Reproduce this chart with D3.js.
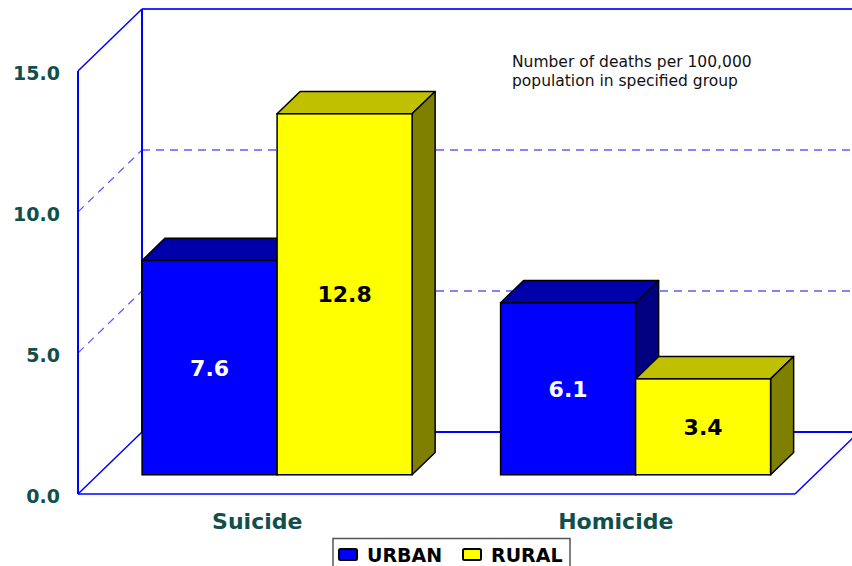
<!DOCTYPE html>
<html>
<head>
<meta charset="utf-8">
<script src="https://cdn.jsdelivr.net/npm/d3@7"></script>
<style>
  body { margin: 0; background: #fff; }
  svg { display: block; }
</style>
</head>
<body>
<svg id="chart" width="852" height="566"></svg>
<script>
// data
var categories = ["Suicide", "Homicide"];
var series = ["URBAN", "RURAL"];
var urban = [7.6, 6.1];
var rural = [12.8, 3.4];
var yTicks = [0, 5, 10, 15];
var note = ["Number of deaths per 100,000", "population in specified group"];

var svg = d3.select("#chart");
var W = 852, H = 566;

// 3d frame: front floor edge and depth offset
var left = 78, right = 795;
var DX = 64, DY = -62;
var f0 = 0.31, f1 = 0.67;   // bar depth, fraction of the floor

var y = d3.scaleLinear().domain([0, 15]).range([494, 71]);
var x = d3.scaleBand().domain(categories).range([left, right]);
var xs = d3.scaleBand().domain(series).range([-135, 135]);

var fill = {URBAN: ["#0000ff", "#0000aa", "#000080"], RURAL: ["#ffff00", "#c0c000", "#808000"]};
var axisBlue = "#0000ff", gridBlue = "#5c5cff";

var frame = svg.append("g");

// left wall + back wall gridlines
yTicks.forEach(function (t) {
    var solid = (t == 0 || t == 15);
    frame.append("line")
        .attr("x1", left).attr("y1", y(t))
        .attr("x2", left + DX).attr("y2", y(t) + DY)
        .attr("stroke", solid ? axisBlue : gridBlue)
        .attr("stroke-width", solid ? 1.5 : 1.2)
        .attr("stroke-dasharray", solid ? null : "8,6");
    frame.append("line")
        .attr("x1", left + DX).attr("y1", y(t) + DY)
        .attr("x2", W).attr("y2", y(t) + DY)
        .attr("stroke", solid ? (t == 0 ? axisBlue : "#2a2aff") : gridBlue)
        .attr("stroke-width", solid ? 1.8 : 1.6)
        .attr("stroke-dasharray", solid ? null : "8,6");
});

frame.append("line")
    .attr("x1", left).attr("y1", y(0)).attr("x2", left).attr("y2", y(15))
    .attr("stroke", axisBlue).attr("stroke-width", 2);
frame.append("line")
    .attr("x1", left + DX).attr("y1", y(0) + DY).attr("x2", left + DX).attr("y2", y(15) + DY)
    .attr("stroke", axisBlue).attr("stroke-width", 2);

// floor
frame.append("line")
    .attr("x1", left).attr("y1", y(0)).attr("x2", right).attr("y2", y(0))
    .attr("stroke", axisBlue).attr("stroke-width", 1.5);
frame.append("line")
    .attr("x1", right).attr("y1", y(0)).attr("x2", right + DX).attr("y2", y(0) + DY)
    .attr("stroke", axisBlue).attr("stroke-width", 1.5);

// y tick labels
svg.append("g").selectAll("text")
    .data(yTicks)
    .enter().append("text")
    .attr("x", 60)
    .attr("y", d => y(d) + 2)
    .attr("dy", "0.36em")
    .attr("text-anchor", "end")
    .attr("font-family", "DejaVu Sans")
    .attr("font-weight", "bold")
    .attr("font-size", 19)
    .attr("fill", "#0f4f4c")
    .text(d => d3.format(".1f")(d));

// bars
var rows = [];
categories.forEach(function (c, i) {
    rows.push({cat: c, s: "URBAN", v: urban[i]});
    rows.push({cat: c, s: "RURAL", v: rural[i]});
});

var ox0 = f0 * DX, oy0 = f0 * DY, ox1 = f1 * DX, oy1 = f1 * DY;

function pts(a) { return a.map(p => p.join(",")).join(" "); }

var bar = svg.append("g").selectAll("g")
    .data(rows)
    .enter().append("g");

bar.each(function (d) {
    var g = d3.select(this);
    var xl = x(d.cat) + x.bandwidth() / 2 + xs(d.s);
    var xr = xl + xs.bandwidth();
    var yt = y(d.v), yb = y(0);
    var c = fill[d.s];
    g.append("polygon")
        .attr("points", pts([[xl + ox0, yt + oy0], [xr + ox0, yt + oy0], [xr + ox1, yt + oy1], [xl + ox1, yt + oy1]]))
        .attr("fill", c[1]).attr("stroke", "#000").attr("stroke-width", 1.5).attr("stroke-linejoin", "round");
    g.append("polygon")
        .attr("points", pts([[xr + ox0, yt + oy0], [xr + ox1, yt + oy1], [xr + ox1, yb + oy1], [xr + ox0, yb + oy0]]))
        .attr("fill", c[2]).attr("stroke", "#000").attr("stroke-width", 1.5).attr("stroke-linejoin", "round");
    g.append("rect")
        .attr("x", xl + ox0).attr("y", yt + oy0)
        .attr("width", xr - xl).attr("height", yb - yt)
        .attr("fill", c[0]).attr("stroke", "#000").attr("stroke-width", 1.5);
    g.append("text")
        .attr("x", (xl + xr) / 2 + ox0)
        .attr("y", (yt + yb) / 2 + oy0)
        .attr("dy", "0.36em")
        .attr("text-anchor", "middle")
        .attr("font-family", "DejaVu Sans")
        .attr("font-weight", "bold")
        .attr("font-size", 22)
        .attr("fill", d.s == "URBAN" ? "#fff" : "#000")
        .text(d3.format(".1f")(d.v));
});

// category labels
svg.append("g").selectAll("text")
    .data(categories)
    .enter().append("text")
    .attr("x", d => x(d) + x.bandwidth() / 2)
    .attr("y", 529)
    .attr("text-anchor", "middle")
    .attr("font-family", "DejaVu Sans")
    .attr("font-weight", "bold")
    .attr("font-size", 22)
    .attr("fill", "#0f4f4c")
    .text(d => d);

// note
svg.append("g").selectAll("text")
    .data(note)
    .enter().append("text")
    .attr("x", 512)
    .attr("y", (d, i) => 67 + i * 19)
    .attr("font-family", "DejaVu Sans")
    .attr("font-size", 15.5)
    .attr("fill", "#111")
    .text(d => d);

// legend
var lg = svg.append("g");
lg.append("rect")
    .attr("x", 333).attr("y", 538.5).attr("width", 237).attr("height", 40)
    .attr("fill", "#fff").attr("stroke", "#555").attr("stroke-width", 1.5);
var item = lg.selectAll("g")
    .data(series)
    .enter().append("g")
    .attr("transform", (d, i) => "translate(" + (339 + i * 124) + ",549)");
item.append("rect")
    .attr("width", 18).attr("height", 11).attr("rx", 1.5)
    .attr("fill", d => fill[d][0]).attr("stroke", "#000").attr("stroke-width", 2);
item.append("text")
    .attr("x", 28).attr("y", 12.5)
    .attr("font-family", "DejaVu Sans")
    .attr("font-weight", "bold")
    .attr("font-size", 19)
    .attr("fill", "#000")
    .text(d => d);
</script>
</body>
</html>
